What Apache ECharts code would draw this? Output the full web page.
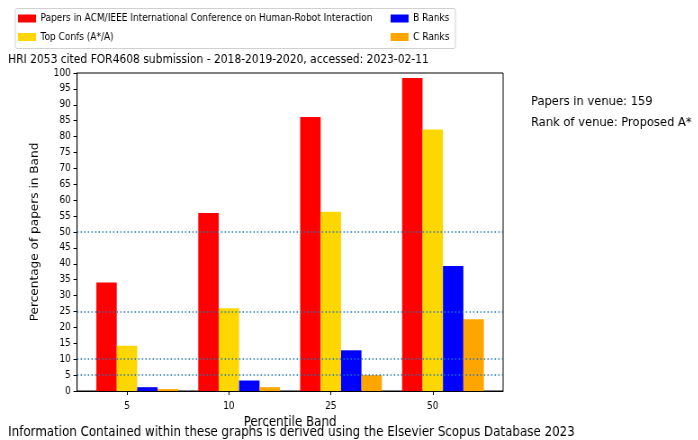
<!DOCTYPE html>
<html>
<head>
<meta charset="utf-8">
<script src="https://cdn.jsdelivr.net/npm/echarts@6/dist/echarts.min.js"></script>
<style>
  html, body { margin: 0; padding: 0; background: #fff; overflow: hidden; }
  /* the reference is squeezed horizontally, so draw wider and squeeze */
  #chart { width: 776px; height: 440px; transform: scaleX(0.9); transform-origin: 0 0; }
</style>
</head>
<body>
<div id="chart"></div>
<script>
// percentile bands on the x axis
const bands = ["5", "10", "25", "50"];

// percentages
const venuePapers = [34.1, 56.0, 86.2, 98.4];
const topConfs = [14.2, 26.0, 56.4, 82.2];
const bRanks = [1.2, 3.3, 12.8, 39.3];
const cRanks = [0.6, 1.2, 5.0, 22.6];

const seriesNames = [
  "Papers in ACM/IEEE International Conference on Human-Robot Interaction",
  "Top Confs (A*/A)",
  "B Ranks",
  "C Ranks"
];
const seriesColors = ["#ff0000", "#ffd700", "#0000ff", "#ffa500"];

// reference lines
const thresholds = [5, 10, 25, 50];

const yTicks = { min: 0, max: 100, step: 5 };

const font = "DejaVu Sans";
const barWidthUnits = 0.2;
// matplotlib style: first bar sits left of the tick, so group centre is tick + half a bar
const groupShift = barWidthUnits / 2;

const chart = echarts.init(document.getElementById("chart"), null, { renderer: "canvas" });

const allValues = [venuePapers, topConfs, bRanks, cRanks];

function makeSeries() {
  return allValues.map((vals, k) => {
    const s = {
      name: seriesNames[k],
      type: "bar",
      barWidth: 22.7,
      barGap: "0%",
      itemStyle: { color: seriesColors[k] },
      data: vals.map((v, i) => [i + groupShift, v]),
      animation: false
    };
    if (k === 0) {
      s.markLine = {
        silent: true,
        symbol: "none",
        label: { show: false },
        lineStyle: { color: "#1f77b4", type: [1.5, 2.5], width: 1.5 },
        data: thresholds.map(t => ({ yAxis: t }))
      };
    }
    return s;
  });
}

const legendBase = {
  orient: "vertical",
  top: 12.5,
  padding: 0,
  itemWidth: 20,
  itemHeight: 8,
  itemGap: 6.5,
  icon: "rect",
  textStyle: { fontFamily: font, fontSize: 10, color: "#000", lineHeight: 12 }
};

const options = {
  animation: false,
  textStyle: { fontFamily: font },
  title: {
    text: "HRI 2053 cited FOR4608 submission - 2018-2019-2020, accessed: 2023-02-11",
    left: 4,
    top: 49,
    textStyle: { fontFamily: font, fontSize: 11.9, fontWeight: "normal", color: "#000" }
  },
  legend: [
    Object.assign({}, legendBase, { data: seriesNames.slice(0, 2), left: 20 }),
    Object.assign({}, legendBase, { data: seriesNames.slice(2), left: 434 })
  ],
  grid: {
    left: 85.6,
    top: 73,
    right: 217,
    bottom: 49,
    show: true,
    borderColor: "#000",
    borderWidth: 1,
    containLabel: false
  },
  xAxis: {
    type: "value",
    min: -0.49,
    max: 3.69,
    name: "Percentile Band",
    nameLocation: "middle",
    nameGap: 23.5,
    nameTextStyle: { fontFamily: font, fontSize: 13.2, color: "#000" },
    axisLine: { show: true, onZero: false, lineStyle: { color: "#000" } },
    axisTick: { show: true, length: 4, lineStyle: { color: "#000" }, customValues: bands.map((b, i) => i) },
    axisLabel: {
      customValues: bands.map((b, i) => i),
      formatter: v => bands[Math.round(v)],
      fontFamily: font,
      fontSize: 10,
      color: "#000",
      margin: 10.5
    },
    splitLine: { show: false }
  },
  yAxis: {
    type: "value",
    min: yTicks.min,
    max: yTicks.max,
    interval: yTicks.step,
    name: "Percentage of papers in Band",
    nameLocation: "middle",
    nameGap: 40.5,
    nameTextStyle: { fontFamily: font, fontSize: 12.1, color: "#000" },
    axisLine: { show: true, onZero: false, lineStyle: { color: "#000" } },
    axisTick: { show: true, length: 4, lineStyle: { color: "#000" } },
    axisLabel: { fontFamily: font, fontSize: 10, color: "#000", margin: 7 },
    splitLine: { show: false }
  },
  graphic: [
    {
      type: "rect",
      shape: { x: 17, y: 8.5, width: 489, height: 40, r: 2 },
      style: { fill: "none", stroke: "#d0d0d0", lineWidth: 1 },
      z: -1
    },
    {
      type: "text",
      left: 590,
      top: 95.5,
      style: { text: "Papers in venue: 159", fontFamily: font, fontSize: 12.8, fill: "#000" }
    },
    {
      type: "text",
      left: 590,
      top: 116.5,
      style: { text: "Rank of venue: Proposed A*", fontFamily: font, fontSize: 12.8, fill: "#000" }
    },
    {
      type: "text",
      left: 9,
      top: 426.5,
      style: {
        text: "Information Contained within these graphs is derived using the Elsevier Scopus Database 2023",
        fontFamily: font,
        fontSize: 13.2,
        fill: "#000"
      }
    }
  ],
  series: makeSeries()
};

chart.setOption(options);
</script>
</body>
</html>
